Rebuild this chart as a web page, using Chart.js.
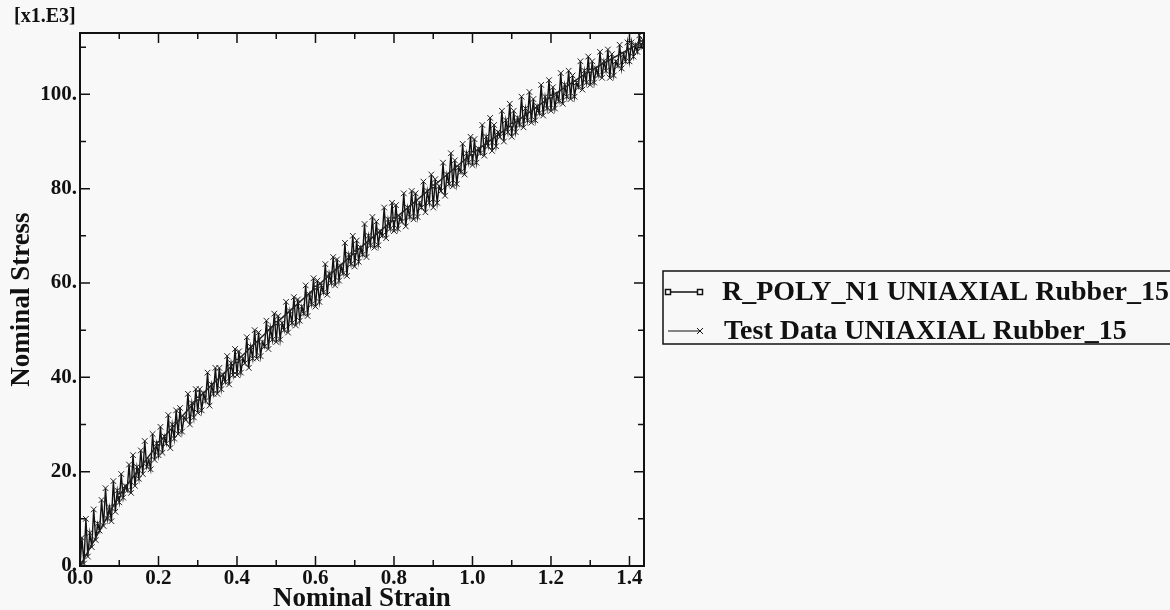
<!DOCTYPE html>
<html>
<head>
<meta charset="utf-8">
<script src="https://cdn.jsdelivr.net/npm/chart.js@4.4.1/dist/chart.umd.min.js"></script>
<style>
  html, body { margin: 0; padding: 0; background: #f8f8f8; }
  canvas { display: block; }
</style>
</head>
<body>
<canvas id="c" width="1170" height="610"></canvas>
<script>
// ---- data ----
const testStrain = [
  0.000,0.005,0.010,0.015,0.020,0.025,0.030,0.035,0.040,0.045,
  0.050,0.055,0.060,0.065,0.070,0.075,0.080,0.085,0.090,0.095,
  0.100,0.105,0.110,0.115,0.120,0.125,0.130,0.135,0.140,0.145,
  0.150,0.155,0.160,0.165,0.170,0.175,0.180,0.185,0.190,0.195,
  0.200,0.205,0.210,0.215,0.220,0.225,0.230,0.235,0.240,0.245,
  0.250,0.255,0.260,0.265,0.270,0.275,0.280,0.285,0.290,0.295,
  0.300,0.305,0.310,0.315,0.320,0.325,0.330,0.335,0.340,0.345,
  0.350,0.355,0.360,0.365,0.370,0.375,0.380,0.385,0.390,0.395,
  0.400,0.405,0.410,0.415,0.420,0.425,0.430,0.435,0.440,0.445,
  0.450,0.455,0.460,0.465,0.470,0.475,0.480,0.485,0.490,0.495,
  0.500,0.505,0.510,0.515,0.520,0.525,0.530,0.535,0.540,0.545,
  0.550,0.555,0.560,0.565,0.570,0.575,0.580,0.585,0.590,0.595,
  0.600,0.605,0.610,0.615,0.620,0.625,0.630,0.635,0.640,0.645,
  0.650,0.655,0.660,0.665,0.670,0.675,0.680,0.685,0.690,0.695,
  0.700,0.705,0.710,0.715,0.720,0.725,0.730,0.735,0.740,0.745,
  0.750,0.755,0.760,0.765,0.770,0.775,0.780,0.785,0.790,0.795,
  0.800,0.805,0.810,0.815,0.820,0.825,0.830,0.835,0.840,0.845,
  0.850,0.855,0.860,0.865,0.870,0.875,0.880,0.885,0.890,0.895,
  0.900,0.905,0.910,0.915,0.920,0.925,0.930,0.935,0.940,0.945,
  0.950,0.955,0.960,0.965,0.970,0.975,0.980,0.985,0.990,0.995,
  1.000,1.005,1.010,1.015,1.020,1.025,1.030,1.035,1.040,1.045,
  1.050,1.055,1.060,1.065,1.070,1.075,1.080,1.085,1.090,1.095,
  1.100,1.105,1.110,1.115,1.120,1.125,1.130,1.135,1.140,1.145,
  1.150,1.155,1.160,1.165,1.170,1.175,1.180,1.185,1.190,1.195,
  1.200,1.205,1.210,1.215,1.220,1.225,1.230,1.235,1.240,1.245,
  1.250,1.255,1.260,1.265,1.270,1.275,1.280,1.285,1.290,1.295,
  1.300,1.305,1.310,1.315,1.320,1.325,1.330,1.335,1.340,1.345,
  1.350,1.355,1.360,1.365,1.370,1.375,1.380,1.385,1.390,1.395,
  1.400,1.405,1.410,1.415,1.420,1.425,1.430,1.435];
const testStress = [
  0,6,0.5,10,2,7,4,12,5.5,9,
  7.5,14,8.5,16.5,10,12.5,9.5,18,11.5,16,
  13.5,19.5,14.5,17,16,21.5,15.5,23.5,17,21,
  18.5,24.5,19.5,26.5,21,22.5,20.5,28,22.5,26,
  23.5,29.5,24,27.5,26,32,25,30,27,33,
  28,33.5,28.5,31.5,31,36.5,30,34.5,31.5,37.5,
  32.5,37.5,33,36.5,35,41,34,38.5,36.5,42,
  36.5,42,37.5,40.5,39,44.5,38.5,43,40.5,46,
  40.5,45.5,41,44,43,48.5,42,46.5,44,50,
  44,49.5,44.5,47.5,46.5,52,46,50.5,48,53.5,
  47.5,53,48,51.5,50,56,49.5,54,51.5,57,
  51,56.5,52,55,53.5,59.5,53,57.5,55.5,61,
  55,60.5,56,59.5,58,64,57.5,62,60,65.5,
  59.5,65,60.5,63.5,62,68.5,61.5,66,64,70,
  63.5,69,64.5,67.5,66,72.5,65.5,70,68,74,
  67.5,73,68,71,70,76,69.5,73.5,71.5,77,
  71,76.5,71.5,74,73,79,72,76,74,79.5,
  73.5,79,74,77,76,81.5,75,79.5,77,83,
  76,82,77,80.5,79.5,85.5,78.5,83,81,87.5,
  80.5,86,81,84.5,83.5,89.5,83,87.5,85.5,91,
  85,90.5,85.5,88.5,87.5,93.5,87,91,89,95,
  88,93.5,89,92,91,96.5,90,94.5,92,98,
  91,96.5,92,95,93.5,99.5,93,97,94.5,100.5,
  94,99,94.5,97.5,96,102,95.5,99.5,97,103,
  96.5,101.5,97,100,98.5,104.5,98,102,99.5,105,
  99,104,99.5,102.5,101.5,107,101,105,102.5,108,
  102,107,102.5,105.5,104,109,103.5,107,105,109.5,
  103.5,108.5,104,107,106,110.5,105.5,108.5,107,111,
  107,111,108,110.5,109,112.5,110,111.5];
const modelStrain = [0.00,0.10,0.20,0.30,0.40,0.50,0.60,0.70,0.80,0.90,1.00,1.10,1.20,1.30,1.43];
const modelStress = [0,15,26,35.5,43.5,51.5,59,66.5,73.5,80.5,87.5,93.5,99.5,105,111];
const xTickValues = [0,0.2,0.4,0.6,0.8,1.0,1.2,1.4];
const xTickLabels = ['0.0','0.2','0.4','0.6','0.8','1.0','1.2','1.4'];
const yTickValues = [0,20,40,60,80,100];
const yTickLabels = ['0.','20.','40.','60.','80.','100.'];
const xMinorValues = [0.1,0.3,0.5,0.7,0.9,1.1,1.3];
const yMinorValues = [10,30,50,70,90,110];
const seriesNames = ['R_POLY_N1 UNIAXIAL Rubber_15','Test Data UNIAXIAL Rubber_15'];
const yUnitLabel = '[x1.E3]';

const SERIF = '"Liberation Serif", "Times New Roman", serif';

const testPts = testStrain.map((x, i) => ({x: x, y: testStress[i]}));
const modelPts = modelStrain.map((x, i) => ({x: x, y: modelStress[i]}));

const framePlugin = {
  id: 'frame',
  afterDatasetsDraw(chart) {
    const {ctx, chartArea: a, scales: {x, y}} = chart;
    ctx.save();
    ctx.strokeStyle = '#111';
    ctx.lineWidth = 2;
    ctx.strokeRect(a.left, a.top, a.right - a.left, a.bottom - a.top);
    ctx.lineWidth = 1.5;
    const tick = (px, len, horiz) => {
      ctx.beginPath();
      if (horiz) {
        ctx.moveTo(px, a.bottom); ctx.lineTo(px, a.bottom - len);
        ctx.moveTo(px, a.top); ctx.lineTo(px, a.top + len);
      } else {
        ctx.moveTo(a.left, px); ctx.lineTo(a.left + len, px);
        ctx.moveTo(a.right, px); ctx.lineTo(a.right - len, px);
      }
      ctx.stroke();
    };
    xTickValues.forEach(v => tick(x.getPixelForValue(v), 10, true));
    xMinorValues.forEach(v => tick(x.getPixelForValue(v), 6, true));
    yTickValues.forEach(v => tick(y.getPixelForValue(v), 10, false));
    yMinorValues.forEach(v => tick(y.getPixelForValue(v), 6, false));
    ctx.restore();
  },
  afterDraw(chart) {
    const {ctx} = chart;
    ctx.save();
    ctx.fillStyle = '#111';
    ctx.font = 'bold 20px ' + SERIF;
    ctx.textBaseline = 'middle';
    ctx.textAlign = 'left';
    ctx.fillText(yUnitLabel, 14, 17);
    const bx = 663, by = 271, bw = 520, bh = 73;
    ctx.strokeStyle = '#111';
    ctx.lineWidth = 1.5;
    ctx.strokeRect(bx, by, bw, bh);
    const rows = [292, 331];
    ctx.lineWidth = 1.5;
    ctx.beginPath(); ctx.moveTo(668, rows[0]); ctx.lineTo(700, rows[0]); ctx.stroke();
    ctx.fillStyle = '#fff';
    [668, 700].forEach(px => { ctx.fillRect(px - 2.5, rows[0] - 2.5, 5, 5); ctx.strokeRect(px - 2.5, rows[0] - 2.5, 5, 5); });
    ctx.lineWidth = 1;
    ctx.beginPath(); ctx.moveTo(668, rows[1]); ctx.lineTo(700, rows[1]); ctx.stroke();
    ctx.beginPath();
    ctx.moveTo(697, rows[1] - 3); ctx.lineTo(703, rows[1] + 3);
    ctx.moveTo(697, rows[1] + 3); ctx.lineTo(703, rows[1] - 3);
    ctx.stroke();
    ctx.fillStyle = '#111';
    ctx.font = 'bold 28px ' + SERIF;
    ctx.fillText(seriesNames[0], 722, rows[0] + 1);
    ctx.fillText(seriesNames[1], 724, rows[1] + 1);
    ctx.restore();
  }
};

new Chart(document.getElementById('c'), {
  type: 'line',
  data: {
    datasets: [
      {
        label: seriesNames[0],
        data: modelPts,
        borderColor: '#222',
        borderWidth: 1.5,
        pointStyle: 'rect',
        pointRadius: 2,
        pointBackgroundColor: '#fff',
        pointBorderColor: '#222',
        tension: 0
      },
      {
        label: seriesNames[1],
        data: testPts,
        borderColor: '#111',
        borderWidth: 1.4,
        pointStyle: 'crossRot',
        pointRadius: 4,
        pointBorderWidth: 1,
        pointBorderColor: '#222',
        tension: 0
      }
    ]
  },
  plugins: [framePlugin],
  options: {
    responsive: false,
    animation: false,
    devicePixelRatio: 1,
    layout: { padding: { left: 0, top: 33, right: 526, bottom: 0 } },
    plugins: { legend: { display: false }, tooltip: { enabled: false } },
    scales: {
      x: {
        type: 'linear',
        min: 0, max: 1.437,
        grid: { display: false, drawTicks: false },
        border: { display: false },
        afterBuildTicks: s => { s.ticks = xTickValues.map(v => ({value: v})); },
        afterFit: s => { s.height = 44; },
        ticks: {
          padding: 2,
          color: '#111',
          font: { family: SERIF, size: 21, weight: 'bold', lineHeight: 1 },
          callback: (v) => { const i = xTickValues.indexOf(v); return i >= 0 ? xTickLabels[i] : ''; },
          maxRotation: 0
        },
        title: {
          display: true,
          text: 'Nominal Strain',
          color: '#111',
          font: { family: SERIF, size: 27, weight: 'bold', lineHeight: 1 },
          padding: { top: 0, bottom: -3 }
        }
      },
      y: {
        type: 'linear',
        min: 0, max: 113,
        grid: { display: false, drawTicks: false },
        border: { display: false },
        afterBuildTicks: s => { s.ticks = yTickValues.map(v => ({value: v})); },
        afterFit: s => { s.width = 80; },
        ticks: {
          padding: 3,
          color: '#111',
          font: { family: SERIF, size: 21, weight: 'bold' },
          callback: (v) => { const i = yTickValues.indexOf(v); return i >= 0 ? yTickLabels[i] : ''; }
        },
        title: {
          display: true,
          text: 'Nominal Stress',
          color: '#111',
          font: { family: SERIF, size: 27, weight: 'bold', lineHeight: 1 },
          padding: { top: 9, bottom: 0 }
        }
      }
    }
  }
});
</script>
</body>
</html>
